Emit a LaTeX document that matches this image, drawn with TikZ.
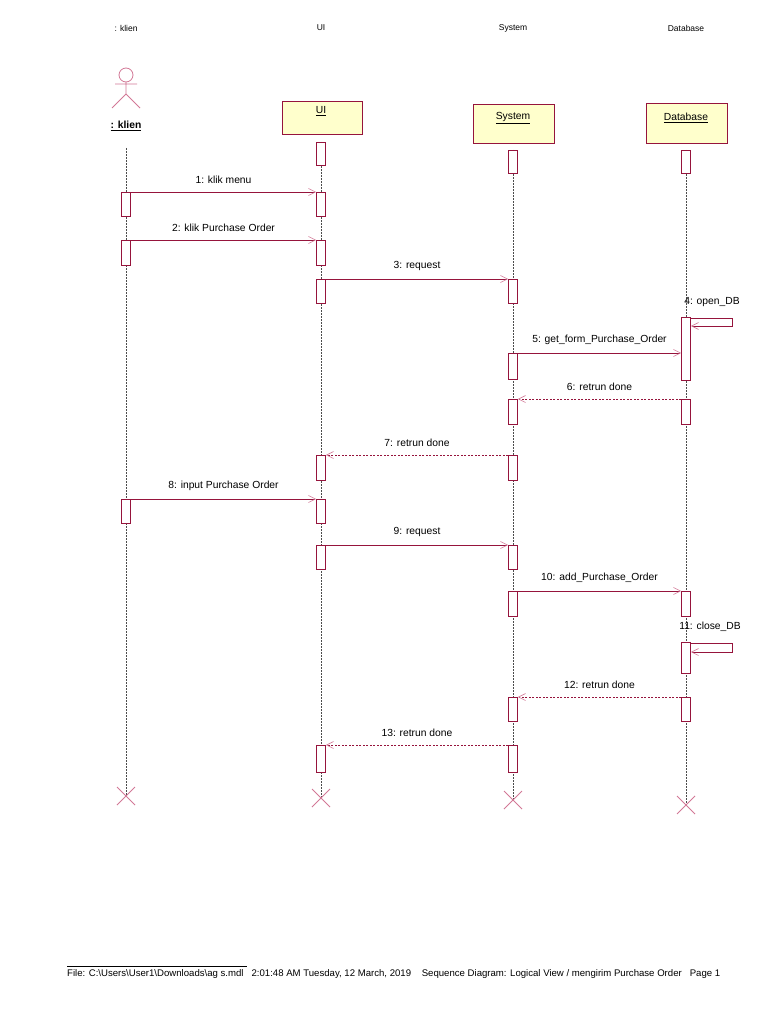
\documentclass[tikz,border=0pt]{standalone}
\usepackage{fontspec}
\setmainfont{Liberation Sans}
\usetikzlibrary{arrows.meta,calc}
\definecolor{ln}{RGB}{150,20,60}
\definecolor{tip}{RGB}{210,120,150}
\definecolor{fillY}{RGB}{255,255,204}
\tikzset{
 x=1pt,y=-1pt,
 every node/.style={font=\fontsize{10.3}{12}\selectfont,inner sep=0pt},
 head/.style={draw=ln,fill=fillY,line width=0.8pt,anchor=north west},
 actbox/.style={draw=ln,fill=white,line width=0.8pt,minimum width=9pt,anchor=north},
 life/.style={dash pattern=on 2pt off 1pt,line width=0.5pt,black!70},
 msg/.style={draw=ln,line width=0.8pt,-{Straight Barb[length=7pt,width=7pt,color=tip,line width=0.6pt]}},
 ret/.style={msg,dash pattern=on 2pt off 1.5pt},
 xmark/.style={draw=tip,line width=0.8pt},
 top/.style={font=\fontsize{8.5}{10}\selectfont},
 lab/.style={above=8pt},
}
\newcommand{\actv}[4]{\node[actbox,minimum height=#4-#3] (#1) at (#2,#3) {};}
\begin{document}
\begin{tikzpicture}
\useasboundingbox (0,0) rectangle (768,1024);
% top labels
\node[top] (tk) at (126,28) {: klien};
\node[top] (tu) at (321,28) {UI};
\node[top] (ts) at (513,28) {System};
\node[top] (td) at (686,28) {Database};
% actor
\draw[tip,line width=0.8pt] (126,75) circle (7);
\draw[tip,line width=0.8pt] (126,82) -- (126,94) (115,84) -- (137,84) (112,108) -- (126,94) -- (140,108);
\node[font=\fontsize{10.3}{12}\selectfont\bfseries] (ka) at (126,126) {\underline{: klien}};
% heads
\node[head,minimum width=80pt,minimum height=33pt] (hu) at (282,101) {};
\node at (321,111) {\underline{UI}};
\node[head,minimum width=81pt,minimum height=39pt] (hs) at (473,104) {};
\node at (513,118) {\underline{System}};
\node[head,minimum width=81pt,minimum height=40pt] (hd) at (646,103) {};
\node at (686,118) {\underline{Database}};
% lifelines
\coordinate (ek) at (126,796);
\coordinate (eu) at (321,798);
\coordinate (es) at (513,800);
\coordinate (ed) at (686,805);
\draw[life] (126,148) -- (ek);
\draw[life] (321,142) -- (eu);
\draw[life] (513,150) -- (es);
\draw[life] (686,150) -- (ed);
\foreach \c in {ek,eu,es,ed}{\draw[xmark] ($(\c)+(-9,-9)$) -- ($(\c)+(9,9)$) ($(\c)+(9,-9)$) -- ($(\c)+(-9,9)$);}
% activations
\actv{u0}{321}{142}{165}
\actv{s0}{513}{150}{173}
\actv{d0}{686}{150}{173}
\actv{k1}{126}{192}{216}\actv{u1}{321}{192}{216}
\actv{k2}{126}{240}{265}\actv{u2}{321}{240}{265}
\actv{u3}{321}{279}{303}\actv{s3}{513}{279}{303}
\actv{d4}{686}{317}{380}
\actv{s5}{513}{353}{379}
\actv{d6}{686}{399}{424}\actv{s6}{513}{399}{424}
\actv{s7}{513}{455}{480}\actv{u7}{321}{455}{480}
\actv{k8}{126}{499}{523}\actv{u8}{321}{499}{523}
\actv{u9}{321}{545}{569}\actv{s9}{513}{545}{569}
\actv{s10}{513}{591}{616}\actv{d10}{686}{591}{616}
\actv{d11}{686}{642}{673}
\actv{d12}{686}{697}{721}\actv{s12}{513}{697}{721}
\actv{s13}{513}{745}{772}\actv{u13}{321}{745}{772}
% messages
\draw[msg] (k1.north east) -- node[lab] {1: klik menu} (u1.north west);
\draw[msg] (k2.north east) -- node[lab] {2: klik Purchase Order} (u2.north west);
\draw[msg] (u3.north east) -- node[lab] {3: request} (s3.north west);
\coordinate (a4) at (732,318); \coordinate (b4) at (732,326);
\draw[msg] (d4.north east) ++(0,1) -- (a4) -- (b4) -- (d4.east |- b4);
\node at (712,302) {4: open\_DB};
\draw[msg] (s5.north east) -- node[lab] {5: get\_form\_Purchase\_Order} (d4.west |- s5.north) ;
\draw[ret] (d6.north west) -- node[lab] {6: retrun done} (s6.north east);
\draw[ret] (s7.north west) -- node[lab] {7: retrun done} (u7.north east);
\draw[msg] (k8.north east) -- node[lab] {8: input Purchase Order} (u8.north west);
\draw[msg] (u9.north east) -- node[lab] {9: request} (s9.north west);
\draw[msg] (s10.north east) -- node[lab] {10: add\_Purchase\_Order} (d10.north west);
\coordinate (a11) at (732,643); \coordinate (b11) at (732,652);
\draw[msg] (d11.north east) ++(0,1) -- (a11) -- (b11) -- (d11.east |- b11);
\node at (710,627) {11: close\_DB};
\draw[ret] (d12.north west) -- node[lab] {12: retrun done} (s12.north east);
\draw[ret] (s13.north west) -- node[lab] {13: retrun done} (u13.north east);
% footer
\draw[line width=0.6pt] (67,966) -- (247,966);
\node[anchor=west,font=\fontsize{9.6}{11}\selectfont] (ft) at (67,974) {File: C:\textbackslash Users\textbackslash User1\textbackslash Downloads\textbackslash ag s.mdl \ \ 2:01:48 AM Tuesday, 12 March, 2019 \ \ \ Sequence Diagram: Logical View / mengirim Purchase Order \ \ Page 1};
\end{tikzpicture}
\end{document}
